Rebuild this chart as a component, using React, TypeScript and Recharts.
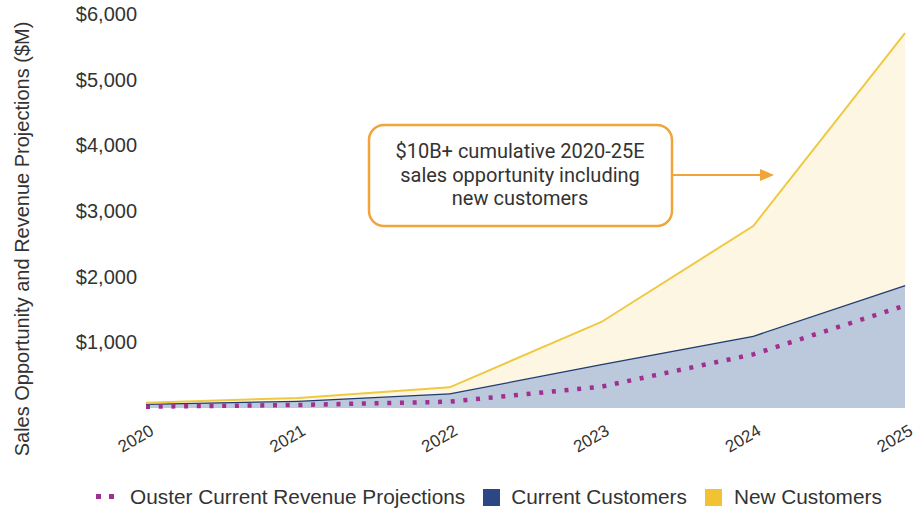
import React from "react";
import {
  ComposedChart,
  Area,
  Line,
  XAxis,
  YAxis,
  Legend,
  Customized,
} from "recharts";

const years = ["2020", "2021", "2022", "2023", "2024", "2025"];
const currentCustomers = [65, 111, 224, 670, 1101, 1873];
const newCustomers = [16, 41, 91, 640, 1670, 3837];
const ousterRevenue = [20, 46, 96, 325, 817, 1560];
const yTicks = [1000, 2000, 3000, 4000, 5000, 6000];

const data = years.map((year, i) => ({
  year,
  current: currentCustomers[i],
  newc: newCustomers[i],
  ouster: ousterRevenue[i],
}));

const FONT = "'Liberation Sans', Arial, sans-serif";

const XTick = (props: any) => {
  const { x, y, payload } = props;
  return (
    <text
      transform={`translate(${x + 9},${y + 18}) rotate(-30)`}
      textAnchor="end"
      fontSize={17}
      fontFamily={FONT}
      fill="#333"
    >
      {payload.value}
    </text>
  );
};

const LegendContent = () => (
  <div
    style={{
      display: "flex",
      alignItems: "center",
      marginLeft: 96,
      fontFamily: FONT,
      fontSize: 20.8,
      color: "#333",
      whiteSpace: "nowrap",
      height: 28,
    }}
  >
    <svg width={20} height={8} style={{ marginRight: 14 }}>
      <rect x={0} y={1} width={5} height={5} fill="#a0308f" />
      <rect x={13} y={1} width={5} height={5} fill="#a0308f" />
    </svg>
    <span style={{ marginRight: 18 }}>Ouster Current Revenue Projections</span>
    <span
      style={{
        display: "inline-block",
        width: 17,
        height: 17,
        background: "#2b4785",
        marginRight: 11,
      }}
    />
    <span style={{ marginRight: 18 }}>Current Customers</span>
    <span
      style={{
        display: "inline-block",
        width: 17,
        height: 17,
        background: "#f1c232",
        marginRight: 12,
      }}
    />
    <span>New Customers</span>
  </div>
);

const Annotation = () => (
  <g>
    <text
      x={22}
      y={239}
      transform="rotate(-90 22 239)"
      textAnchor="middle"
      dominantBaseline="central"
      fontSize={20}
      fontFamily={FONT}
      fill="#333"
    >
      Sales Opportunity and Revenue Projections ($M)
    </text>
    <rect
      x={369}
      y={125}
      width={303}
      height={101}
      rx={15}
      ry={15}
      fill="#ffffff"
      stroke="#f0a43a"
      strokeWidth={2.5}
    />
    <g fontFamily="Roboto, sans-serif" fontSize={20} fill="#333" textAnchor="middle">
      <text x={520} y={158}>$10B+ cumulative 2020-25E</text>
      <text x={520} y={181.5}>sales opportunity including</text>
      <text x={520} y={205}>new customers</text>
    </g>
    <line x1={672} y1={175} x2={762} y2={175} stroke="#f0a43a" strokeWidth={2} />
    <polygon points="774,175 760,169 760,181" fill="#f0a43a" />
  </g>
);

export default function App() {
  return (
    <div style={{ position: "absolute", left: 0, top: 0, background: "#fff" }}>
      <ComposedChart
        width={924}
        height={511}
        data={data}
        margin={{ top: 14, right: 19, bottom: 0, left: 0 }}
      >
        <XAxis
          dataKey="year"
          axisLine={false}
          tickLine={false}
          height={75}
          tick={<XTick />}
          interval={0}
          padding={{ left: 0, right: 0 }}
        />
        <YAxis
          domain={[0, 6000]}
          ticks={yTicks}
          width={146}
          axisLine={false}
          tickLine={false}
          tickMargin={3}
          tick={{ fontSize: 20, fontFamily: FONT, fill: "#333" }}
          tickFormatter={(v: number) => `$${v.toLocaleString("en-US")}`}
        />
        <Area
          type="linear"
          dataKey="current"
          stackId="s"
          stroke="#1f3b71"
          strokeWidth={2.5}
          fill="#bcc8db"
          fillOpacity={1}
          isAnimationActive={false}
        />
        <Area
          type="linear"
          dataKey="newc"
          stackId="s"
          stroke="#efc944"
          strokeWidth={2}
          fill="#fdf6e2"
          fillOpacity={1}
          isAnimationActive={false}
        />
        <Line
          type="linear"
          dataKey="ouster"
          stroke="#a0308f"
          strokeWidth={4.5}
          strokeDasharray="4 8.7"
          dot={false}
          activeDot={false}
          isAnimationActive={false}
        />
        <Legend verticalAlign="bottom" height={28} content={<LegendContent />} />
        <Customized component={<Annotation />} />
      </ComposedChart>
    </div>
  );
}
